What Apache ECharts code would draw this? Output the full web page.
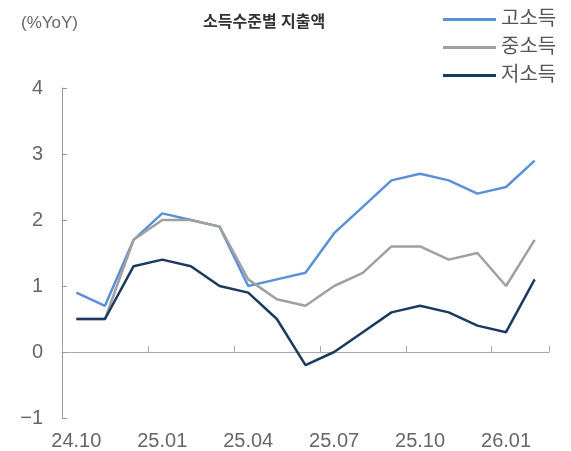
<!DOCTYPE html>
<html>
<head>
<meta charset="utf-8">
<style>
html, body { margin: 0; padding: 0; background: #fff; }
#container { width: 571px; height: 451px; }
</style>
<script src="https://cdn.jsdelivr.net/npm/echarts@6/dist/echarts.min.js"></script>
</head>
<body>
<div id="container"></div>
<script>
// 소득수준별 지출액 (%YoY)
var months = ['24.10','24.11','24.12','25.01','25.02','25.03','25.04','25.05','25.06',
              '25.07','25.08','25.09','25.10','25.11','25.12','26.01','26.02'];
var highIncome = [0.9, 0.7, 1.7, 2.1, 2.0, 1.9, 1.0, 1.1, 1.2, 1.8, 2.2, 2.6, 2.7, 2.6, 2.4, 2.5, 2.9];
var midIncome  = [0.5, 0.5, 1.7, 2.0, 2.0, 1.9, 1.1, 0.8, 0.7, 1.0, 1.2, 1.6, 1.6, 1.4, 1.5, 1.0, 1.7];
var lowIncome  = [0.5, 0.5, 1.3, 1.4, 1.3, 1.0, 0.9, 0.5, -0.2, 0.0, 0.3, 0.6, 0.7, 0.6, 0.4, 0.3, 1.1];
var seriesNames = ['고소득', '중소득', '저소득'];
var colors = ['#5A90DA', '#A0A0A0', '#1C3A60'];

var font = "'Liberation Sans', 'Noto Sans CJK KR', sans-serif";
var dom = document.getElementById('container');
var myChart = echarts.init(dom);

var option = {
    animation: false,
    backgroundColor: '#fff',
    color: colors,
    title: [
        {
            text: '소득수준별 지출액',
            left: 198,
            top: 10,
            textStyle: { fontSize: 16, fontWeight: 'bold', color: '#333', fontFamily: font }
        },
        {
            text: '(%YoY)',
            left: 16,
            top: 10,
            textStyle: { fontSize: 17, fontWeight: 'normal', color: '#666', fontFamily: font }
        }
    ],
    legend: {
        orient: 'vertical',
        left: 438,
        top: 4,
        icon: 'rect',
        itemWidth: 53,
        itemHeight: 3,
        itemGap: 7,
        data: seriesNames,
        textStyle: { fontSize: 20, color: '#555', fontFamily: font, lineHeight: 21 }
    },
    grid: { left: 62, right: 22, top: 88, bottom: 33, containLabel: false },
    xAxis: [
        {
            type: 'category',
            data: months,
            position: 'bottom',
            axisLine: { show: false, onZero: false },
            axisTick: { show: false },
            axisLabel: { interval: 2, margin: 13, fontSize: 20, color: '#666', fontFamily: font }
        },
        {
            type: 'category',
            data: months,
            position: 'bottom',
            axisLine: { show: true, onZero: true, lineStyle: { color: '#aaa', width: 1 } },
            axisTick: { show: true, inside: true, interval: 2, length: 6, lineStyle: { color: '#aaa' } },
            axisLabel: { show: false }
        }
    ],
    yAxis: {
        type: 'value',
        min: -1,
        max: 4,
        interval: 1,
        axisLine: { show: true, lineStyle: { color: '#999', width: 1 } },
        axisTick: { show: true, inside: true, length: 5, lineStyle: { color: '#999' } },
        splitLine: { show: false },
        axisLabel: {
            margin: 19,
            fontSize: 20,
            color: '#666',
            fontFamily: font,
            formatter: function (v) { return v < 0 ? '\u2212' + Math.abs(v) : String(v); }
        }
    },
    series: [
        { name: seriesNames[0], type: 'line', data: highIncome, xAxisIndex: 0, showSymbol: false, symbol: 'none', lineStyle: { width: 2.5 } },
        { name: seriesNames[1], type: 'line', data: midIncome, xAxisIndex: 0, showSymbol: false, symbol: 'none', lineStyle: { width: 2.5 } },
        { name: seriesNames[2], type: 'line', data: lowIncome, xAxisIndex: 0, showSymbol: false, symbol: 'none', lineStyle: { width: 2.5 } }
    ]
};
myChart.setOption(option);
</script>
</body>
</html>
